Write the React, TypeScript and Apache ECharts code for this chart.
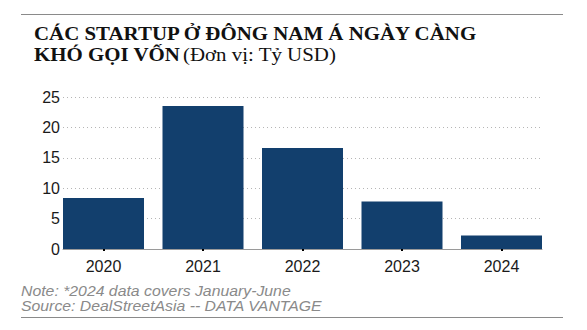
import React, { useEffect, useRef } from "react";
import * as echarts from "echarts";

const years = ["2020", "2021", "2022", "2023", "2024"];
const funding = [8.4, 23.5, 16.6, 7.8, 2.2];
const titleBold1 = "CÁC STARTUP Ở ĐÔNG NAM Á NGÀY CÀNG";
const titleBold2 = "KHÓ GỌI VỐN";
const titleUnit = "(Đơn vị: Tỷ USD)";
const note = "Note: *2024 data covers January-June";
const source = "Source: DealStreetAsia -- DATA VANTAGE";

export default function App() {
  const ref = useRef<HTMLDivElement>(null);
  useEffect(() => {
    if (!ref.current) return;
    const chart = echarts.init(ref.current, null, { renderer: "svg" });
    const labelFont = { color: "#1a1a1a", fontSize: 16, fontFamily: "Liberation Sans" };
    const noteStyle = {
      fontFamily: "Liberation Sans",
      fontStyle: "italic",
      fontSize: 14,
      fill: "#8a8a8a",
      verticalAlign: "top",
    };
    chart.setOption({
      animation: false,
      backgroundColor: "#ffffff",
      grid: [
        { left: 63, right: 45, top: 97, bottom: 81 },
        { left: 53.75, right: 35.75, top: 97, bottom: 81 },
      ],
      xAxis: [
        {
          type: "category",
          gridIndex: 0,
          data: years,
          axisLine: { lineStyle: { color: "#9a9a9a", width: 1 } },
          axisTick: { show: false },
          axisLabel: { show: false },
        },
        {
          type: "category",
          gridIndex: 1,
          data: years,
          axisLine: { show: false },
          axisTick: { show: true, alignWithLabel: true, length: 2, lineStyle: { color: "#000", width: 2 } },
          axisLabel: { ...labelFont, margin: 9 },
        },
      ],
      yAxis: [
        {
          type: "value",
          gridIndex: 0,
          min: 0,
          max: 25,
          interval: 5,
          axisLabel: { ...labelFont, margin: 3 },
          splitLine: { lineStyle: { type: [1, 3], color: "#b5b5b5", width: 1 } },
          axisLine: { show: false },
          axisTick: { show: false },
        },
        {
          type: "value",
          gridIndex: 1,
          min: 0,
          max: 25,
          interval: 5,
          show: false,
          splitLine: { show: false },
        },
      ],
      series: [
        {
          type: "bar",
          xAxisIndex: 1,
          yAxisIndex: 1,
          data: funding,
          barWidth: 81,
          itemStyle: { color: "#123f6d" },
          z: 3,
        },
      ],
      graphic: [
        { type: "line", shape: { x1: 21, y1: 14.5, x2: 563, y2: 14.5 }, style: { stroke: "#8a8a8a", lineWidth: 1 } },
        { type: "line", shape: { x1: 21, y1: 317.5, x2: 563, y2: 317.5 }, style: { stroke: "#8a8a8a", lineWidth: 1 } },
        {
          type: "text",
          x: 34,
          y: 24,
          scaleX: 1.1,
          style: { font: "bold 19px 'Liberation Serif'", fill: "#111", verticalAlign: "top", text: titleBold1 },
        },
        {
          type: "text",
          x: 34,
          y: 44.5,
          scaleX: 1.1,
          style: { font: "bold 19px 'Liberation Serif'", fill: "#111", verticalAlign: "top", text: titleBold2 },
        },
        {
          type: "text",
          x: 183,
          y: 44.5,
          scaleX: 1.1,
          style: { font: "19px 'Liberation Serif'", fill: "#111", verticalAlign: "top", text: titleUnit },
        },
        { type: "text", x: 21, y: 284, scaleX: 1.13, style: { ...noteStyle, text: note } },
        { type: "text", x: 21, y: 299, scaleX: 1.13, style: { ...noteStyle, text: source } },
      ],
    });
    return () => chart.dispose();
  }, []);
  return <div ref={ref} style={{ position: "fixed", left: 0, top: 0, width: 587, height: 330 }} />;
}
